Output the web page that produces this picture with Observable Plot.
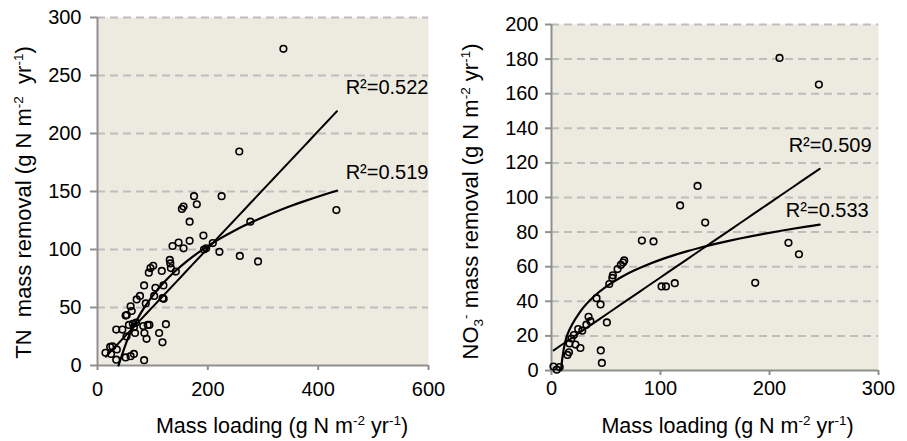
<!DOCTYPE html>
<html><head><meta charset="utf-8">
<script src="https://cdn.jsdelivr.net/npm/d3@7"></script>
<script src="https://cdn.jsdelivr.net/npm/@observablehq/plot@0.6"></script>
<style>
body{margin:0;background:#fff;}
#wrap{position:relative;width:907px;height:441px;overflow:hidden;}
#wrap svg{position:absolute;top:0;}
</style></head><body><div id="wrap"></div>
<script>
// ---- Left panel: TN ----
const tnLoading = [337,257,433,175,225,180,156,153,167,277,192,167,147,136,156,193,197,209,221,258,291,131,132,133,142,116.5,101,96,93,119.5,105,84.5,102.7,118,120,87.5,71,77,60,62,53,51,70,64,57,66,83,94,91,124,34,45,68,85,89,111.7,117.8,52.5,35,23,14.5,24.5,34,51,60,66,84.5,27];
const tnRemoval = [273,184.5,134,146,146,139,137,135,124,124,112,107.5,106,103,101,100,101,105.5,98,94.5,89.7,91,88,84,81,81.5,86,84,80,69,67,69,60,58,57.5,53.5,57,60,51,47,43.5,43,37,36,35,33,34,35,35,35.6,31,31,28,28,23,28,20,25,13.8,16,11,10,5,7,8,10,4.6,16.6];
const tnTicksX = [0,200,400,600];
const tnTicksY = [0,50,100,150,200,250,300];
// trendlines: linear [slope, intercept], log [a, c] for y = a*ln(x)+c, x range
const tnLinear = [0.505, 0];
const tnLog = [61.7, -224];
const tnRange = [15, 434];
const tnR2 = ["R²=0.522","R²=0.519"];

// ---- Right panel: NO3- ----
const no3Loading = [209.2,245.3,134,118,141,82.9,93.6,217.4,227,186.9,113.1,101,105,66.7,65.7,63.6,60.6,56.3,55.8,53,41.3,45,50.8,45.2,46.2,34,35.7,32,28.2,24.5,20.5,18.3,16.5,22,26.5,14.6,16,1.8,4.8,7.5];
const no3Removal = [180.7,165.3,106.7,95.4,85.5,75.1,74.6,73.8,67.2,50.7,50.5,48.6,48.6,63.6,62.4,61,58.6,55,53.5,50,41.8,38.2,27.8,11.6,4.4,31,28.5,26.5,23,24,20.5,18.5,15.6,15,13,9,10.5,2.3,0.5,2];
const no3TicksX = [0,100,200,300];
const no3TicksY = [0,20,40,60,80,100,120,140,160,180,200];
const no3Linear = [0.43, 10.8];
const no3Log = [22.5, -39.6];
const no3Range = [2, 246];
const no3R2 = ["R²=0.509","R²=0.533"];

const FONT = "Liberation Sans, Arial, Helvetica, sans-serif";
const BG = "#EDEAE0";
const AXIS = "#8f8f8f";

// sample a trendline like a spreadsheet does (fixed number of steps), clipped at y = 0
function trend(f, range, n) {
  const raw = [];
  for (let i = 0; i <= n; i++) { const x = range[0] + (range[1]-range[0])*i/n; raw.push({x, y: f(x)}); }
  const out = [];
  for (let i = 0; i < raw.length; i++) {
    const p = raw[i];
    if (p.y >= 0) {
      if (i > 0 && raw[i-1].y < 0) {
        const q = raw[i-1], t = -q.y / (p.y - q.y);
        out.push({x: q.x + t*(p.x - q.x), y: 0});
      }
      out.push(p);
    }
  }
  return out;
}

function panel(o) {
  const pts = o.xs.map((x,i) => ({x, y: o.ys[i]}));
  const yd = o.yTicks[o.yTicks.length-1], xd = o.xTicks[o.xTicks.length-1];
  const lin = trend(x => o.lin[0]*x + o.lin[1], o.range, 40);
  const lg = trend(x => o.log[0]*Math.log(x) + o.log[1], o.range, 20);
  return Plot.plot({
    width: o.width, height: 441,
    marginLeft: o.ml, marginRight: o.mr, marginTop: o.mt, marginBottom: o.mb,
    style: {fontFamily: FONT, fontSize: "20px", background: "transparent", color: "black", overflow: "visible"},
    x: {domain: [0, xd], label: null},
    y: {domain: [0, yd], label: null},
    marks: [
      Plot.frame({fill: BG, stroke: null}),
      Plot.gridY(o.yTicks.slice(1), {stroke: "#bdbdbd", strokeOpacity: 1, strokeWidth: 2, strokeDasharray: "8,5"}),
      Plot.axisY({ticks: o.yTicks, tickSize: o.yTickSize, tickPadding: o.yPad, stroke: AXIS, strokeWidth: 2, fill: "black", tickFormat: d => String(d), fontSize: 20, label: null}),
      Plot.axisX({ticks: o.xTicks, tickSize: 5, tickPadding: o.xPad, stroke: AXIS, strokeWidth: 2, fill: "black", tickFormat: d => String(d), fontSize: 20, label: null}),
      Plot.ruleX([0], {stroke: AXIS, strokeWidth: 2}),
      Plot.ruleY([0], {stroke: AXIS, strokeWidth: 2}),
      Plot.dot(pts, {x: "x", y: "y", r: 3.3, stroke: "black", strokeWidth: 1.6, fill: "none"}),
      Plot.line(lin, {x: "x", y: "y", stroke: "black", strokeWidth: 2}),
      Plot.line(lg, {x: "x", y: "y", stroke: "black", strokeWidth: 2.2, curve: "catmull-rom"}),
      Plot.text([o.r2[0]], {x: o.l1[0], y: o.l1[1], text: d => d, textAnchor: "end", fontSize: 20, fill: "black"}),
      Plot.text([o.r2[1]], {x: o.l2[0], y: o.l2[1], text: d => d, textAnchor: "end", fontSize: 20, fill: "black"})
    ]
  });
}

function addTitle(svg, parts, x, y, rotate, size) {
  const t = d3.select(svg).append("text")
    .attr("transform", `translate(${x},${y})` + (rotate ? " rotate(-90)" : ""))
    .attr("text-anchor", "middle").attr("fill", "black")
    .style("font-family", FONT).style("font-size", size + "px").style("white-space", "pre");
  let shift = 0;
  parts.forEach(([s, k]) => {
    const target = k === "sup" ? -8 : k === "sub" ? 5 : 0;
    const sp = t.append("tspan").attr("dy", target - shift).text(s);
    if (k !== "n") sp.style("font-size", "13.5px");
    shift = target;
  });
}

const wrap = document.getElementById("wrap");

const left = panel({width: 450, ml: 97, mr: 22, mt: 17, mb: 76, xs: tnLoading, ys: tnRemoval,
  xTicks: tnTicksX, yTicks: tnTicksY, yTickSize: 7, yPad: 9, xPad: 11,
  lin: tnLinear, log: tnLog, range: tnRange, r2: tnR2, l1: [600, 240], l2: [600, 166]});
left.style.left = "0px";
wrap.appendChild(left);
addTitle(left, [["Mass loading (g N m","n"],["-2","sup"],[" yr","n"],["-1","sup"],[")","n"]], 282, 433, false, 21.5);
addTitle(left, [["TN  mass removal (g N m","n"],["-2","sup"],["  yr","n"],["-1","sup"],[")","n"]], 30.5, 202.5, true, 22);

const right = panel({width: 457, ml: 101, mr: 29, mt: 24, mb: 71, xs: no3Loading, ys: no3Removal,
  xTicks: no3TicksX, yTicks: no3TicksY, yTickSize: 6, yPad: 7, xPad: 5,
  lin: no3Linear, log: no3Log, range: no3Range, r2: no3R2, l1: [293.6, 130], l2: [291, 92.5]});
right.style.left = "450px";
wrap.appendChild(right);
addTitle(right, [["Mass loading (g N m","n"],["-2","sup"],[" yr","n"],["-1","sup"],[")","n"]], 277.5, 433, false, 21.5);
addTitle(right, [["NO","n"],["3","sub"],["-","sup"],[" mass removal (g N m","n"],["-2","sup"],[" yr","n"],["-1","sup"],[")","n"]], 28.3, 201.5, true, 22);
</script></body></html>
